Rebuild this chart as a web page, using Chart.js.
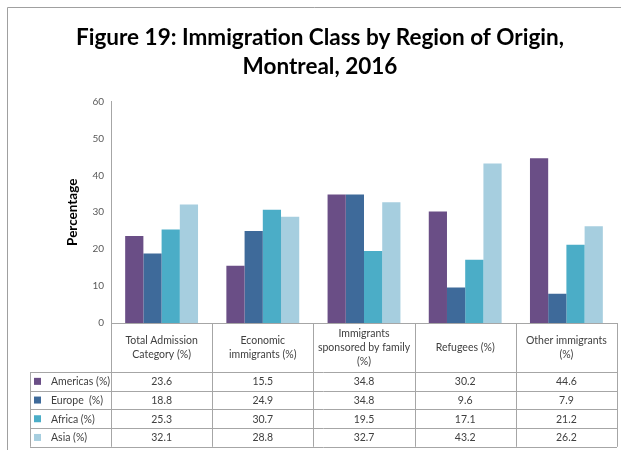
<!DOCTYPE html>
<html>
<head>
<meta charset="utf-8">
<script src="https://cdn.jsdelivr.net/npm/chart.js@4.4.1/dist/chart.umd.min.js"></script>
<style>
  html, body { margin: 0; padding: 0; background: #fff; }
  #wrap { width: 621px; height: 450px; position: relative; }
</style>
</head>
<body>
<div id="wrap"><canvas id="immigrationChart" width="621" height="450"></canvas></div>
<script>
// data
const categories = [
	['Total Admission', 'Category (%)'],
	['Economic', 'immigrants (%)'],
	['Immigrants', 'sponsored by family', '(%)'],
	['Refugees (%)'],
	['Other immigrants', '(%)']
];
const seriesNames = ['Americas (%)', 'Europe  (%)', 'Africa (%)', 'Asia (%)'];
const americas = [23.6, 15.5, 34.8, 30.2, 44.6];
const europe = [18.8, 24.9, 34.8, 9.6, 7.9];
const africa = [25.3, 30.7, 19.5, 17.1, 21.2];
const asia = [32.1, 28.8, 32.7, 43.2, 26.2];
const yTicks = [0, 10, 20, 30, 40, 50, 60];

const seriesValues = [americas, europe, africa, asia];
const seriesColors = ['#6A4E86', '#3E6A9A', '#4BADC7', '#A6CEDF'];
const lineColor = '#A6A6A6';
const fontFamily = 'Lato, "Open Sans", sans-serif';

// draws the frame and the data table under the bars
const tablePlugin = {
	id: 'dataTable',
	afterDraw(chart) {
		const ctx = chart.ctx;
		const x = chart.scales.x;
		const area = chart.chartArea;
		const colW = x.width / categories.length;
		const headTop = area.bottom;
		const headBottom = 372;
		const rowH = 18.7;
		const tableBottom = headBottom + rowH * seriesNames.length;
		const labelLeft = 30;

		ctx.save();
		// outer frame (top + left only, as in the figure)
		ctx.strokeStyle = '#A0A0A0';
		ctx.lineWidth = 1;
		ctx.beginPath();
		ctx.moveTo(7.5, 450);
		ctx.lineTo(7.5, 7.5);
		ctx.lineTo(621, 7.5);
		ctx.stroke();

		ctx.strokeStyle = lineColor;
		ctx.beginPath();
		// top of header row (x axis)
		ctx.moveTo(x.left, Math.round(headTop) + 0.5);
		ctx.lineTo(x.right, Math.round(headTop) + 0.5);
		// row lines
		for (let r = 0; r <= seriesNames.length; r++) {
			const y = Math.round(headBottom + r * rowH) + 0.5;
			ctx.moveTo(labelLeft, y);
			ctx.lineTo(x.right, y);
		}
		// column lines
		for (let c = 0; c <= categories.length; c++) {
			const cx = Math.round(x.left + c * colW) + 0.5;
			ctx.moveTo(cx, headTop);
			ctx.lineTo(cx, tableBottom);
		}
		ctx.moveTo(labelLeft + 0.5, headBottom);
		ctx.lineTo(labelLeft + 0.5, tableBottom);
		ctx.stroke();

		// header text
		ctx.fillStyle = '#404040';
		ctx.font = '10.5px ' + fontFamily;
		ctx.textAlign = 'center';
		ctx.textBaseline = 'middle';
		const headMid = (headTop + headBottom) / 2;
		categories.forEach((lines, i) => {
			const cx = x.getPixelForValue(i);
			const lh = 14;
			const y0 = headMid - (lines.length - 1) * lh / 2;
			lines.forEach((t, k) => ctx.fillText(t, cx, y0 + k * lh));
		});

		// legend cells and values
		seriesNames.forEach((name, r) => {
			const yMid = headBottom + r * rowH + rowH / 2 + 0.5;
			ctx.fillStyle = seriesColors[r];
			ctx.fillRect(34, yMid - 4, 7, 7);
			ctx.fillStyle = '#404040';
			ctx.textAlign = 'left';
			ctx.fillText(name, 51, yMid);
			ctx.textAlign = 'center';
			seriesValues[r].forEach((v, i) => {
				ctx.fillText(v.toFixed(1), x.getPixelForValue(i), yMid);
			});
		});
		ctx.restore();
	}
};

const ctx = document.getElementById('immigrationChart').getContext('2d');
new Chart(ctx, {
	type: 'bar',
	data: {
		labels: categories,
		datasets: seriesNames.map((name, i) => ({
			label: name,
			data: seriesValues[i],
			backgroundColor: seriesColors[i],
			borderWidth: 0,
			categoryPercentage: 0.72,
			barPercentage: 1.0
		}))
	},
	options: {
		responsive: false,
		animation: false,
		layout: {
			padding: { left: 23, right: 4, top: 0, bottom: 127 }
		},
		scales: {
			x: {
				display: false
			},
			y: {
				min: 0,
				max: 60,
				afterBuildTicks(scale) {
					scale.ticks = yTicks.map(v => ({ value: v }));
				},
				afterFit(scale) {
					scale.width = 88;
				},
				ticks: {
					color: '#595959',
					padding: 7,
					font: { size: 10, family: fontFamily }
				},
				grid: { display: false, drawTicks: false },
				border: { display: true, color: lineColor },
				title: {
					display: true,
					text: 'Percentage',
					color: '#000',
					padding: { top: 42, bottom: 0 },
					font: { size: 13.5, weight: 'bold', family: fontFamily }
				}
			}
		},
		plugins: {
			legend: { display: false },
			tooltip: { enabled: false },
			title: {
				display: true,
				text: ['Figure 19: Immigration Class by Region of Origin,', 'Montreal, 2016'],
				color: '#000',
				padding: { top: 23, bottom: 20 },
				font: { size: 22.5, weight: 'bold', family: fontFamily, lineHeight: 1.3 }
			}
		}
	},
	plugins: [tablePlugin]
});
</script>
</body>
</html>
